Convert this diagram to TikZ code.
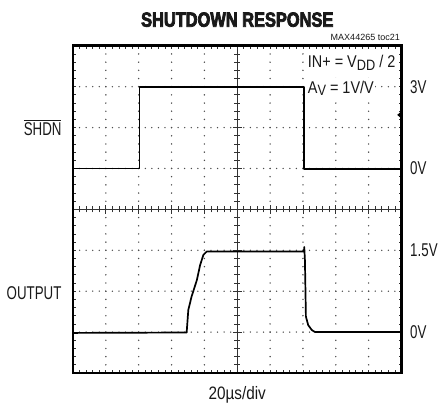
\documentclass[tikz,border=0pt]{standalone}
\usepackage{fontspec}
\setmainfont{Liberation Sans}
\newfontfamily\sidefont{Liberation Sans}[FakeStretch=0.72]
\newfontfamily\notefont{Liberation Sans}[FakeStretch=0.85]
\newfontfamily\titlefont{Liberation Sans}[FakeStretch=0.8, BoldFeatures={FakeBold=3.5}]
\newcommand{\lowsub}[1]{\raisebox{-2.5bp}{\fontsize{15bp}{15bp}\selectfont #1}}

\begin{document}
\begin{tikzpicture}[x=32.85bp, y=40.9bp,
	every node/.style={inner sep=0pt, text=black!90},
	sidelabel/.style={anchor=west, font=\sidefont\fontsize{18.5bp}{20bp}\selectfont},
	notelabel/.style={anchor=base west, fill=white, inner xsep=1bp, inner ysep=2bp,
		text height=13bp, text depth=5bp, font=\notefont\fontsize{17bp}{20bp}\selectfont},
	griddot/.style={fill=black!70},
	tick/.style={line width=0.8bp, black!80},
	trace/.style={line width=1.7bp, line join=round}]
	\useasboundingbox (-2.2222,-0.8802) rectangle (11.2024,9.1198);
	% \draw[help lines] (0,0) grid (10,8);

	% dotted graticule
	\foreach \y in {1,2,3,5,6,7} \foreach \i in {1,...,49} \fill[griddot] (\i/5,\y) circle (0.75bp);
	\foreach \x in {1,2,3,4,6,7,8,9} \foreach \i in {1,...,39} \fill[griddot] (\x,\i/5) circle (0.8bp);

	% centre axes and edge ticks
	\draw[tick] (0,4) -- (10,4); \draw[tick] (5,0) -- (5,8);
	\foreach \i in {1,...,49} {
		\draw[tick] (\i/5,4) ++(0,-3bp) -- ++(0,6bp);
		\draw[tick] (\i/5,0) -- ++(0,3bp);
		\draw[tick] (\i/5,8) -- ++(0,-3bp);
	}
	\foreach \i in {1,...,39} {
		\draw[tick] (5,\i/5) ++(-3bp,0) -- ++(6bp,0);
		\draw[tick] (0,\i/5) -- ++(3bp,0);
		\draw[tick] (10,\i/5) -- ++(-3bp,0);
	}
	\foreach \i in {1,...,9} \draw[tick] (\i,4) ++(0,-4.5bp) -- ++(0,9bp);
	\foreach \i in {1,...,7} \draw[tick] (5,\i) ++(-4.5bp,0) -- ++(9bp,0);

	\draw[line width=2.8bp] (0,0) rectangle (10,8);
	\fill (9.87,6.31) -- (10,6.4) -- (10,6.22) -- cycle;

	% traces
	\draw[trace] (0,5) -- (2.02,5) -- (2.02,7) -- (7.03,7) -- (7.03,4.98) -- (10,4.98);
	\draw[trace] (0,0.98) -- (3.46,0.99) -- (3.51,1.54) -- (3.61,1.87) -- (3.77,2.27)
		-- (3.87,2.64) -- (3.97,2.89) -- (4.07,2.97) -- (7.03,2.97) -- (7.04,3.08)
		-- (7.06,2.76) -- (7.09,1.38) -- (7.16,1.17) -- (7.27,1.05) -- (7.37,1.0) -- (10,1.0);

	% texts
	\node (title) at (5,8.467) [anchor=base, font=\titlefont\bfseries\fontsize{20.5bp}{21bp}\selectfont] {SHUTDOWN RESPONSE};
	\node (tocid) at (9.954,8.125) [anchor=base east, font=\fontsize{9bp}{10bp}\selectfont] {MAX44265 toc21};
	\node (gaincond) at (7.114,6.84) [notelabel] {A\lowsub{V} = 1V/V};
	\node (incond) at (7.114,7.465) [notelabel] {IN+ = V\lowsub{DD} / 2};
	\node (lblhi) at (10.26,7) [sidelabel] {3V};
	\node (lblshdnlo) at (10.26,5) [sidelabel] {0V};
	\node (lblmid) at (10.26,3) [sidelabel] {1.5V};
	\node (lbloutlo) at (10.26,1) [sidelabel] {0V};
	\node (shdn) at (-0.344,5.819) [sidelabel, anchor=base east] {$\overline{\hbox{\sidefont SHDN}}$};
	\node (output) at (-0.344,1.785) [sidelabel, anchor=base east] {OUTPUT};
	\node (timebase) at (5,-0.66) [anchor=base, font=\notefont\fontsize{18bp}{20bp}\selectfont] {20µs/div};
\end{tikzpicture}
\end{document}
